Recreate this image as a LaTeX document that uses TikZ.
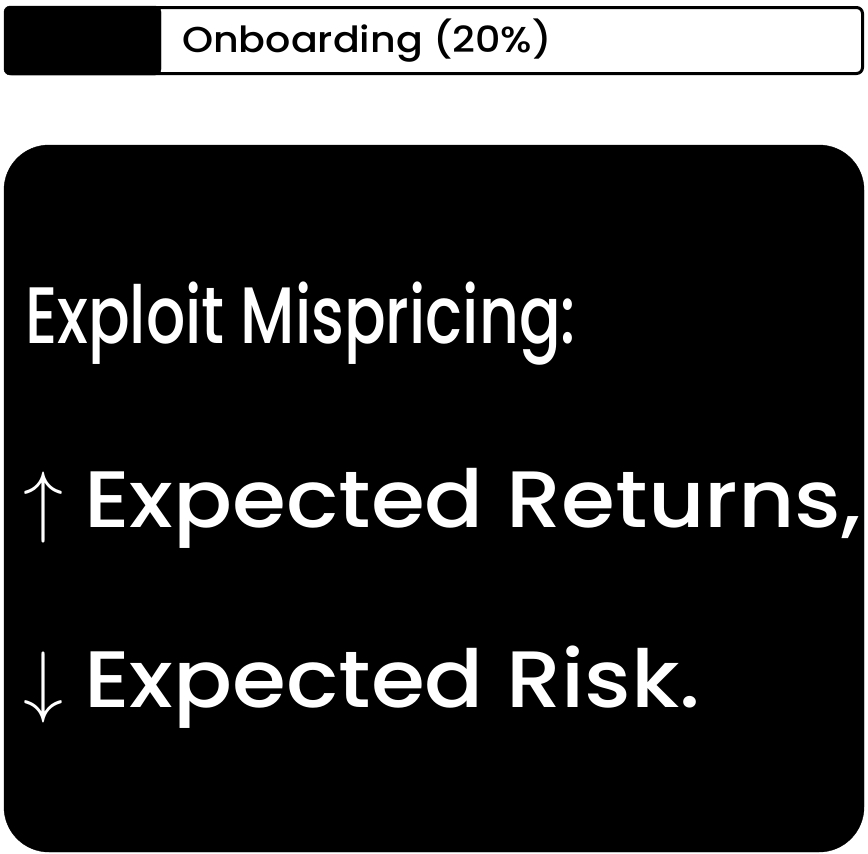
\RequirePackage{fix-cm}
\documentclass[tikz,border=0pt]{standalone}
\usepackage{fontspec}
\setmainfont{Poppins}
\newfontfamily\barfont[FakeStretch=1.1]{Poppins Medium}
\newfontfamily\headfont[FakeStretch=0.77]{Poppins Medium}
\newfontfamily\cardfont[FakeStretch=1.09]{Poppins Medium}
\usetikzlibrary{calc}

\tikzset{
  bartext/.style={anchor=base west,inner sep=0pt,font=\barfont\fontsize{36}{40}\selectfont},
  headtext/.style={anchor=base west,inner sep=0pt,text=white,font=\headfont\fontsize{80}{90}\selectfont},
  cardtext/.style={anchor=base west,inner sep=0pt,text=white,font=\cardfont\fontsize{80}{90}\selectfont}
}

\begin{document}
\begin{tikzpicture}[x=1pt,y=-1pt]
\useasboundingbox (0,0) rectangle (868,854);
% progress bar
\filldraw[black,rounded corners=6pt](4,6) rectangle (161,75);
\draw[line width=3pt,rounded corners=6pt](5.5,7.5) rectangle (862.5,73.5);
\node[bartext] (bar) at (182,52) {Onboarding (20\%)};
% card
\filldraw[black,rounded corners=45pt](4,145) rectangle (864,852);
\node[headtext] (head) at (25,343) {Exploit Mispricing:};
\node[cardtext] (up) at (23,527) {$\uparrow$\hspace{21pt}Expected Returns,};
\node[cardtext] (down) at (23,707) {$\downarrow$\hspace{21pt}Expected Risk.};
\end{tikzpicture}
\end{document}
